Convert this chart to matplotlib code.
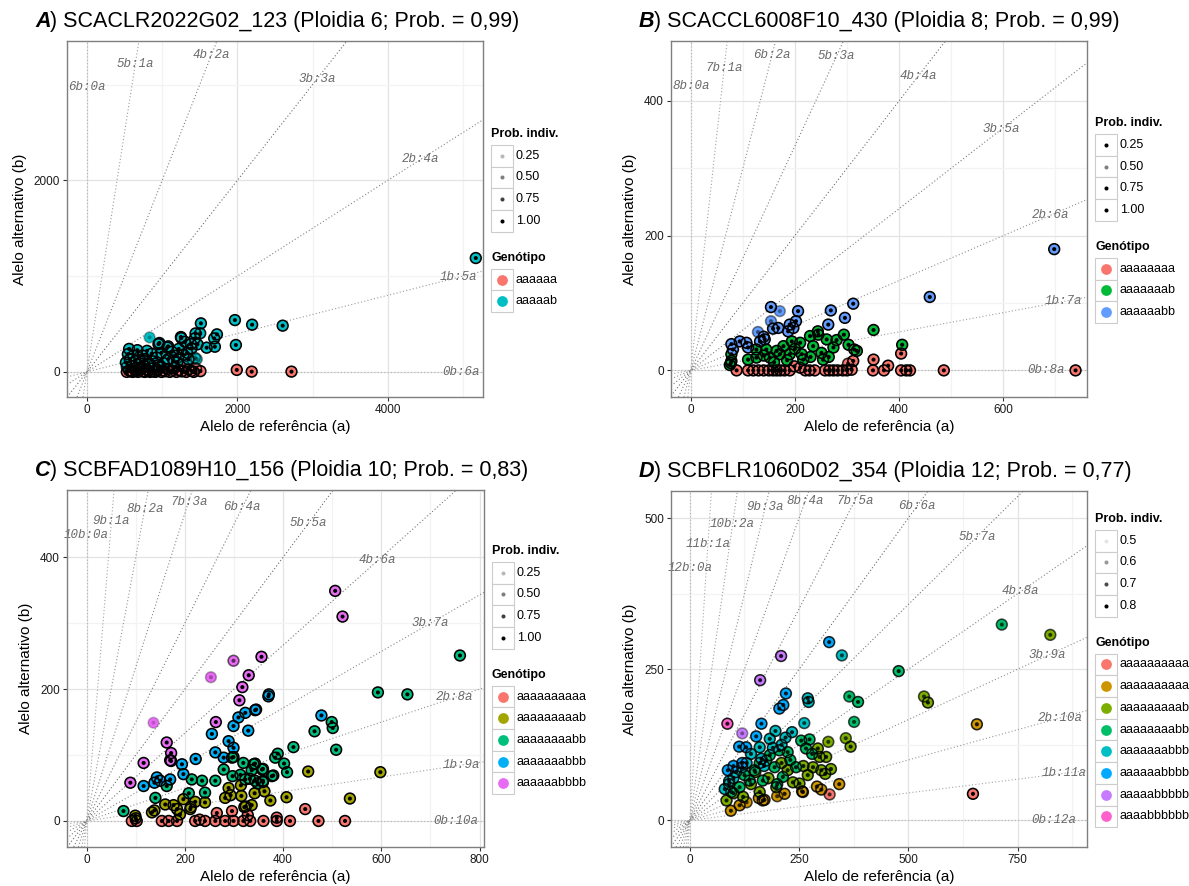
import math
import matplotlib
matplotlib.use("Agg")
import matplotlib.pyplot as plt
from matplotlib.patches import Rectangle

plt.rcParams['font.family'] = ['Liberation Sans', 'DejaVu Sans']

# ------------------------------------------------------------------ data
# each point: (reference allele a, alternative allele b, individual probability)
A_titles = ("A", ") SCACLR2022G02_123 (Ploidia 6; Prob. = 0,99)")
A_ploidy = 6
A_genotypes = ["aaaaaa", "aaaaab"]
A_aaaaaa = [(530,0,1),(560,15,1),(585,5,1),(610,0,1),(630,30,1),(655,10,1),(680,0,1),(700,20,1),
            (720,45,1),(745,5,1),(770,0,1),(790,25,1),(815,10,1),(840,0,1),(860,35,1),(885,5,1),
            (910,0,1),(935,20,1),(960,50,1),(990,0,1),(1010,15,1),(1040,5,0.8),(1070,30,1),(1100,0,1),
            (1130,10,0.8),(1160,40,1),(1190,0,1),(1220,20,1),(1260,5,1),(1290,60,0.7),(1320,0,1),
            (1350,25,1),(1390,10,1),(1420,0,1),(1450,35,0.8),(1509,8,1),(1992,21,1),(2190,3,1),(2719,3,1)]
A_aaaaab = [(5169,1189,1),(2602,483,1),(2196,493,1),(1967,541,1),(1980,281,1),(1515,507,1),(1506,403,0.9),
            (1728,392,1),(1692,350,1),(1701,263,1),(1591,253,1),(1435,350,1),(1470,288,1),(1435,149,0.5),
            (1249,364,1),(1302,315,1),(1391,246,1),(1080,267,1),(963,302,1),(833,360,0.3),(951,290,1),
            (1067,255,1),(1383,290,1),(1255,353,1),(1444,402,1),(544,185,1),(671,227,1),(798,220,1),
            (518,98,1),(569,133,1),(645,115,1),(772,133,1),(925,150,1),(1078,133,1),(1179,168,1),
            (1281,178,1),(1459,133,0.5),(600,60,1),(700,90,1),(740,170,1),(860,190,1),(880,110,1),
            (990,200,1),(1020,90,1),(1130,210,1),(1150,120,1),(1220,240,1),(1330,200,1),(560,240,1),
            (620,170,1),(690,150,0.9),(820,80,1),(950,70,1),(1200,100,1),(1350,130,1),(530,50,0.8),(760,60,1)]
A_prob_labels = ["0.25", "0.50", "0.75", "1.00"]
A_prob_alpha = [0.28, 0.5, 0.75, 1.0]

B_titles = ("B", ") SCACCL6008F10_430 (Ploidia 8; Prob. = 0,99)")
B_ploidy = 8
B_genotypes = ["aaaaaaaa", "aaaaaaab", "aaaaaabb"]
B_aaaaaaaa = [(88,0,1),(110,0,1),(120,0,1),(130,0,1),(140,0,1),(150,0,1),(158,0,1),(165,0,1),(172,0,1),
              (180,0,1),(190,0,1),(199,6,1),(210,4,1),(220,0,1),(228,0,1),(238,0,1),(258,0,1),(266,0,1),
              (274,0,1),(282,0,1),(292,0,1),(300,0,1),(309,1,1),(312,14,1),(302,10,0.8),(351,16,1),
              (350,0,1),(371,0,1),(379,7,1),(404,0,1),(404,25,1),(414,0,1),(421,0,1),(486,0,1),(739,0,1)]
B_aaaaaaab = [(351,60,1),(406,38,1),(294,53,1),(303,38,1),(319,29,1),(274,34,1),(245,53,1),(229,51,1),
              (261,46,1),(235,36,1),(251,26,1),(254,16,1),(210,41,1),(194,43,1),(178,36,1),(165,29,1),
              (190,24,1),(213,24,1),(152,19,1),(126,19,1),(110,16,1),(78,14,1),(78,24,1),(145,31,1),
              (216,16,1),(171,24,1),(126,31,1),(75,8,1),(200,32,1),(230,20,1),(160,12,1),(140,22,1),
              (185,15,1),(265,20,1),(280,45,1),(314,31,1),(244,58,1),(77,11,1)]
B_aaaaaabb = [(154,94,1),(171,88,0.4),(154,73,0.5),(168,63,1),(206,88,1),(202,73,1),(190,68,1),(187,58,1),
              (158,62,1),(129,57,0.5),(133,43,1),(142,46,1),(94,43,1),(78,39,1),(81,31,1),(107,41,1),
              (110,34,1),(269,89,1),(312,99,1),(296,78,1),(264,68,1),(698,180,1),(459,109,1),(140,50,1),(197,63,1)]
B_prob_labels = ["0.25", "0.50", "0.75", "1.00"]
B_prob_alpha = [1.0, 0.5, 1.0, 1.0]

C_titles = ("C", ") SCBFAD1089H10_156 (Ploidia 10; Prob. = 0,83)")
C_ploidy = 10
C_genotypes = ["aaaaaaaaaa", "aaaaaaaaab", "aaaaaaaabb", "aaaaaaabbb", "aaaaaabbbb"]
C_g0 = [(92,0,1),(102,0,1),(153,0,1),(167,0,1),(184,0,1),(221,0,1),(241,0,1),(262,0,1),(282,0,1),
        (299,0,1),(319,0,1),(333,0,1),(360,0,1),(387,0,1),(414,0,1),(472,0,1),(526,0,1),(265,12,1),
        (296,15,1),(445,18,1),(387,5,1),(328,9,1),(100,4,1),(230,2,1)]
C_g1 = [(598,74,1),(451,75,1),(536,34,1),(407,36,1),(374,31,1),(362,45,1),(336,24,1),(315,38,1),
        (289,50,1),(282,35,1),(321,21,1),(241,28,1),(221,29,1),(197,33,1),(160,25,1),(133,13,1),
        (99,8,1),(184,18,1),(190,10,1),(211,18,1),(342,42,1),(293,39,1),(314,54,1),(359,59,1),
        (177,24,1),(212,21,1),(324,22,1),(138,16,1)]
C_g2 = [(760,251,1),(593,195,1),(653,192,1),(499,150,1),(501,141,1),(464,136,1),(508,108,1),(421,112,1),
        (389,102,1),(384,96,1),(402,87,1),(408,74,1),(380,69,1),(359,79,1),(343,87,1),(319,88,1),
        (299,97,1),(279,78,1),(297,68,1),(313,70,1),(332,64,1),(336,77,1),(262,61,1),(235,61,1),
        (214,63,1),(241,43,1),(208,42,1),(140,35,1),(163,53,1),(75,15,1),(359,61,1),(348,57,1),
        (296,96,1),(340,86,1),(357,78,1),(377,68,1),(323,63,1),(343,61,1)]
C_g3 = [(370,189,1),(371,192,1),(343,168,1),(323,164,1),(309,157,1),(299,144,1),(329,137,1),(255,132,1),
        (289,121,1),(299,111,1),(262,104,1),(279,96,1),(222,94,1),(194,86,1),(197,71,1),(170,63,1),
        (150,61,1),(138,58,1),(116,53,1),(143,66,1),(172,91,1),(478,160,1),(345,169,1)]
C_g4 = [(506,349,1),(521,310,1),(356,249,1),(299,243,0.6),(253,218,0.3),(330,221,1),(317,203,1),(311,183,1),
        (263,150,1),(136,149,0.2),(163,119,1),(172,103,1),(170,92,1),(116,88,1),(89,58,1)]
C_prob_labels = ["0.25", "0.50", "0.75", "1.00"]
C_prob_alpha = [0.28, 0.5, 0.75, 1.0]

D_titles = ("D", ") SCBFLR1060D02_354 (Ploidia 12; Prob. = 0,77)")
D_ploidy = 12
D_genotypes = ["aaaaaaaaaaab", "aaaaaaaaaabb", "aaaaaaaaabbb", "aaaaaaaabbbb",
               "aaaaaaabbbbb", "aaaaaabbbbbb", "aaaaabbbbbbb", "aaaabbbbbbbb"]
D_g1 = [(648,44,1),(320,43,0.7)]
D_g2 = [(657,159,0.85),(342,60,0.85),(291,56,0.85),(301,51,0.85),(259,47,0.85),(217,44,0.85),(167,33,0.85),
        (114,25,0.85),(94,16,0.85),(158,37,0.85),(171,34,0.85),(257,48,0.85),(130,30,0.7),(200,40,0.7)]
D_g3 = [(825,307,0.7),(536,205,0.7),(545,195,0.85),(357,136,0.7),(368,122,0.85),(317,130,0.7),(293,119,0.85),
        (297,105,0.85),(312,105,0.85),(323,85,0.85),(282,88,0.85),(301,83,0.85),(310,77,0.85),(236,63,0.85),
        (251,61,0.85),(224,83,0.85),(198,55,0.85),(160,47,0.85),(122,39,0.85),(84,33,0.85),(140,60,0.85),
        (180,70,0.85),(260,90,0.85),(210,95,0.85),(100,45,0.85),(150,80,0.85),(270,75,0.85)]
D_g4 = [(714,324,0.7),(478,247,0.85),(365,205,0.7),(385,196,0.85),(376,163,0.7),(274,134,0.85),(255,132,0.85),
        (266,119,0.85),(224,113,0.85),(205,116,0.85),(183,108,0.85),(194,88,0.85),(148,83,0.85),(137,66,0.85),
        (114,55,0.85),(95,47,0.85),(167,66,0.85),(213,72,0.85),(243,88,0.85),(175,99,0.85),(230,100,0.85),
        (160,95,0.85),(125,75,0.85),(200,60,0.85),(280,110,0.85),(90,60,0.85)]
D_g5 = [(348,273,0.7),(270,202,0.85),(272,196,0.85),(262,161,0.7),(234,146,0.85),(219,137,0.85),(196,148,0.85),
        (183,135,0.85),(160,121,0.85),(164,102,0.85),(120,88,0.85),(106,80,0.85),(80,52,0.85),(140,110,0.85),
        (190,120,0.85),(100,70,0.85),(210,125,0.85),(130,95,0.85),(90,65,0.85),(170,90,0.85)]
D_g6 = [(319,295,0.85),(220,210,0.85),(214,191,0.85),(205,185,0.85),(164,160,0.85),(152,139,0.85),
        (113,122,0.85),(129,121,0.85),(87,83,0.85),(120,95,0.85),(100,90,0.85)]
D_g7 = [(209,272,0.85),(161,232,0.85),(120,144,0.4)]
D_g8 = [(86,160,0.85)]
D_prob_labels = ["0.5", "0.6", "0.7", "0.8"]
D_prob_alpha = [0.1, 0.4, 0.7, 1.0]

HUE2 = ['#F8766D', '#00BFC4']
HUE3 = ['#F8766D', '#00BA38', '#619CFF']
HUE5 = ['#F8766D', '#A3A500', '#00BF7D', '#00B0F6', '#E76BF3']
HUE8 = ['#F8766D', '#CD9600', '#7CAE00', '#00BE67', '#00BFC4', '#00A9FF', '#C77CFF', '#FF61CC']

X_LABEL = "Alelo de referência (a)"
Y_LABEL = "Alelo alternativo (b)"

# ------------------------------------------------------------------ layout
W, H = 1189, 886
panels = [
    dict(titles=A_titles, ploidy=A_ploidy, names=A_genotypes, pts=[A_aaaaaa, A_aaaaab], colors=HUE2,
         prob_labels=A_prob_labels, prob_alpha=A_prob_alpha,
         box=(67, 41, 483, 397), xlim=(-265, 5265), ylim=(-262, 3455),
         xticks=[0, 2000, 4000], yticks=[0, 2000], xminor=[1000, 3000, 5000], yminor=[1000, 3000],
         steep=0.10, bump=0.0, flat=0.0),
    dict(titles=B_titles, ploidy=B_ploidy, names=B_genotypes, pts=[B_aaaaaaaa, B_aaaaaaab, B_aaaaaabb], colors=HUE3,
         prob_labels=B_prob_labels, prob_alpha=B_prob_alpha,
         box=(671, 41, 1087, 397), xlim=(-38, 761), ylim=(-39.5, 489),
         xticks=[0, 200, 400, 600], yticks=[0, 200, 400], xminor=[100, 300, 500, 700], yminor=[100, 300],
         steep=0.10, bump=0.0, flat=0.045),
    dict(titles=C_titles, ploidy=C_ploidy, names=C_genotypes, pts=[C_g0, C_g1, C_g2, C_g3, C_g4], colors=HUE5,
         prob_labels=C_prob_labels, prob_alpha=C_prob_alpha,
         box=(67, 490, 484, 847), xlim=(-40, 809), ylim=(-39.5, 502),
         xticks=[0, 200, 400, 600, 800], yticks=[0, 200, 400], xminor=[100, 300, 500, 700], yminor=[100, 300, 500],
         steep=0.10, bump=0.0, flat=0.015),
    dict(titles=D_titles, ploidy=D_ploidy, names=D_genotypes,
         pts=[D_g1, D_g2, D_g3, D_g4, D_g5, D_g6, D_g7, D_g8], colors=HUE8,
         prob_labels=D_prob_labels, prob_alpha=D_prob_alpha,
         box=(671, 491, 1087, 847), xlim=(-43, 909), ylim=(-44, 545),
         xticks=[0, 250, 500, 750], yticks=[0, 250, 500], xminor=[125, 375, 625, 875], yminor=[125, 375],
         steep=0.19, bump=0.05, flat=0.025),
]

PT_S = 60
DOT_S = 8.5

fig = plt.figure(figsize=(W / 100, H / 100), dpi=100)
fig.patch.set_facecolor('white')

ov = fig.add_axes([0, 0, 1, 1])
ov.set_xlim(0, W)
ov.set_ylim(H, 0)
ov.axis('off')
ov.set_zorder(10)


def label_radius(f, cfg):
    R = 0.9 - cfg['steep'] * max(0.0, (f - 0.7) / 0.3) ** 1.3
    R += cfg['bump'] * math.exp(-((f - 0.47) / 0.13) ** 2)
    if f == 0:
        R -= cfg['flat']
    return R


def draw_panel(cfg):
    l, t, r, b = cfg['box']
    ax = fig.add_axes([l / W, 1 - b / H, (r - l) / W, (b - t) / H])
    ax.set_xlim(*cfg['xlim'])
    ax.set_ylim(*cfg['ylim'])
    ax.set_xticks(cfg['xticks'])
    ax.set_yticks(cfg['yticks'])
    ax.set_xticks(cfg['xminor'], minor=True)
    ax.set_yticks(cfg['yminor'], minor=True)
    ax.grid(which='major', color='#E3E3E3', lw=0.9)
    ax.grid(which='minor', color='#F3F3F3', lw=0.9)
    ax.set_axisbelow(True)
    for sp in ax.spines.values():
        sp.set_color('#7F7F7F')
        sp.set_linewidth(1.0)
    ax.tick_params(which='major', length=3, width=0.8, color='#333333',
                   labelsize=8.5, labelcolor='#1a1a1a', pad=2)
    ax.tick_params(which='minor', length=0)
    ax.set_xlabel(X_LABEL, fontsize=11, labelpad=3)
    ax.set_ylabel(Y_LABEL, fontsize=11, labelpad=5)

    P = cfg['ploidy']
    x0, x1 = cfg['xlim']
    y0, y1 = cfg['ylim']
    xr, yr = x1 - x0, y1 - y0
    for k in range(P + 1):
        f = k / P
        level = 0.42 + 0.28 * abs(2 * f - 1)
        ax.axline((0, 0), (P - k, k), color=str(level), lw=0.8, ls=(0, (1, 2)), zorder=1)
        R = label_radius(f, cfg)
        dx, dy = (P - k) / xr, k / yr
        u = R / (dx ** 3 + dy ** 3) ** (1 / 3)
        ax.text(u * (P - k), u * k, f"{k}b:{P - k}a", family=['Liberation Mono', 'DejaVu Sans Mono'],
                style='italic', fontsize=9, color='#6a6a6a', ha='center', va='center', zorder=2)

    xs, ys, ps, cols = [], [], [], []
    for pts, col in zip(cfg['pts'], cfg['colors']):
        for (xa, yb, p) in pts:
            xs.append(xa); ys.append(yb); ps.append(p); cols.append(col)
    blk = [(0, 0, 0, p) for p in ps]
    ax.scatter(xs, ys, s=PT_S, c=cols, linewidths=0, zorder=3)
    ax.scatter(xs, ys, s=PT_S, facecolors='none', edgecolors=blk, linewidths=1.15, zorder=4)
    ax.scatter(xs, ys, s=DOT_S, c=blk, linewidths=0, zorder=5)

    # title
    t1 = ov.text(l - 32, t - 14, cfg['titles'][0], fontsize=15.5, fontweight='bold',
                 fontstyle='italic', ha='left', va='baseline')
    ov.annotate(cfg['titles'][1], xy=(1, 0), xycoords=t1, fontsize=15.5, ha='left', va='bottom')

    # legends
    key, title_h, gap = 21.7, 19, 18
    kx = r + 8
    blocks = [("Prob. indiv.", list(zip(cfg['prob_labels'], cfg['prob_alpha'])), 'prob'),
              ("Genótipo", list(zip(cfg['names'], cfg['colors'])), 'geno')]
    total = sum(title_h + len(e) * key for _, e, _ in blocks) + gap * (len(blocks) - 1)
    yy = (t + b) / 2 - total / 2
    for title, entries, kind in blocks:
        ov.text(kx, yy + 8, title, fontsize=9, fontweight='bold', ha='left', va='center')
        for i, (lab, val) in enumerate(entries):
            ky = yy + title_h + i * key
            ov.add_patch(Rectangle((kx, ky), key, key, facecolor='white', edgecolor='#CCCCCC', lw=0.8))
            cx, cy = kx + key / 2, ky + key / 2
            if kind == 'prob':
                ov.scatter([cx], [cy], s=DOT_S, color=[(0, 0, 0, val)], linewidths=0)
            else:
                ov.scatter([cx], [cy], s=PT_S, color=[val], linewidths=0)
            ov.text(kx + key + 3, cy, lab, fontsize=9, ha='left', va='center')
        yy += title_h + len(entries) * key + gap


for cfg in panels:
    draw_panel(cfg)

fig.savefig("out.png", dpi=100, facecolor='white')
